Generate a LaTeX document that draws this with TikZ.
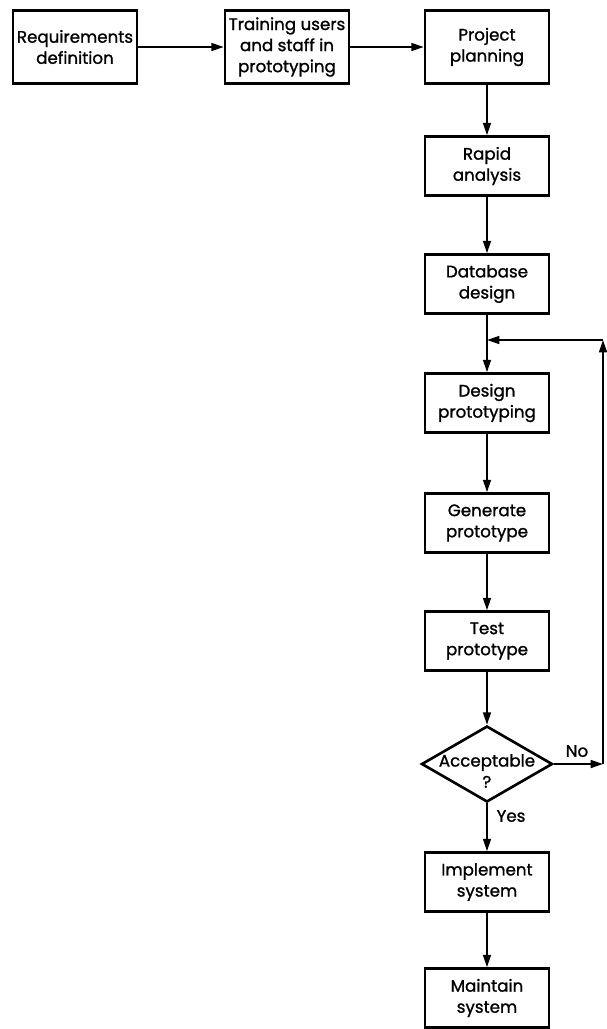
\documentclass[tikz,border=0pt]{standalone}
\usepackage{fontspec}
\setmainfont{Poppins}[FakeBold=1.2]
\usetikzlibrary{arrows.meta}
\usetikzlibrary{shapes.geometric}

\tikzset{
  procbox/.style={draw, line width=1.5pt, minimum width=2.48cm, minimum height=1.18cm,
    align=center, inner sep=1pt, font=\fontsize{9.5}{12}\selectfont},
  topbox/.style={procbox, minimum height=1.46cm},
  decide/.style={draw, diamond, line width=1.5pt, minimum width=2.62cm,
    minimum height=1.52cm, inner sep=0pt},
  flow/.style={line width=1pt, -{Triangle[length=7pt,width=4.5pt]}},
  answer/.style={font=\fontsize{9.5}{12}\selectfont},
}

\begin{document}
\begin{tikzpicture}[x=0.02cm, y=-0.02cm]
\useasboundingbox (0,0) rectangle (607,1029);

% top row
\node[topbox] (req) at (75,47) {Requirements\\definition};
\node[topbox] (train) at (287,47) {Training users\\and staff in\\prototyping};
\node[topbox] (proj) at (487,47) {Project\\planning};

% main column
\node[procbox] (rapid) at (487,166) {Rapid\\analysis};
\node[procbox] (db) at (487,284) {Database\\design};
\node[procbox] (design) at (487,403) {Design\\prototyping};
\node[procbox] (gen) at (487,523) {Generate\\prototype};
\node[procbox] (test) at (487,641) {Test\\prototype};
\node[decide] (acc) at (487,764) {};
\node[answer, align=center] (acctext) at (487,771) {Acceptable\\?};
\node[procbox] (impl) at (487,882) {Implement\\system};
\node[procbox] (maint) at (487,998) {Maintain\\system};

\coordinate (join) at (487,340);
\coordinate (backdown) at (603,764);
\coordinate (backup) at (603,340);

\draw[flow] (req) -- (train);
\draw[flow] (train) -- (proj);
\draw[flow] (proj) -- (rapid);
\draw[flow] (rapid) -- (db);
\draw[flow] (db) -- (design);
\draw[flow] (design) -- (gen);
\draw[flow] (gen) -- (test);
\draw[flow] (test) -- (acc);
\draw[flow] (acc) -- (impl);
\draw[flow] (impl) -- (maint);

% loop back
\draw[flow] (acc) -- (backdown);
\draw[flow] (backdown) -- (backup);
\draw[flow] (backup) -- (join);

\node[answer] (nolabel) at (577,751) {No};
\node[answer] (yeslabel) at (511,816) {Yes};

\end{tikzpicture}
\end{document}
